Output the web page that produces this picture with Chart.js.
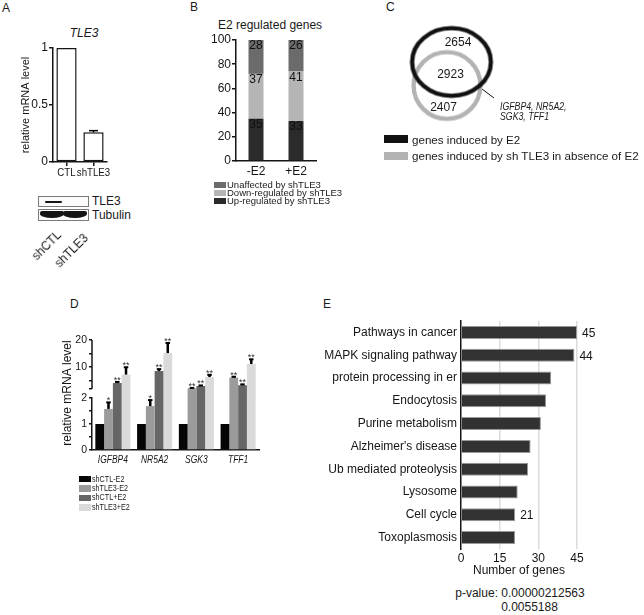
<!DOCTYPE html>
<html>
<head>
<meta charset="utf-8">
<title>TLE3 figure</title>
<script src="https://cdn.jsdelivr.net/npm/chart.js@4.4.1/dist/chart.umd.min.js"></script>
<style>
  html, body { margin: 0; padding: 0; background: #fff; }
  #fig { position: relative; width: 644px; height: 615px; overflow: hidden;
         font-family: 'Liberation Sans', Arial, sans-serif; color: #1a1a1a; }
  #fig canvas { position: absolute; }
  .txt { position: absolute; white-space: nowrap; line-height: 1; }
  .blot { position: absolute; box-sizing: border-box; border: 1px solid #7a7a7a; background: #fbfbfb; }
  .band { position: absolute; background: #141414; }
  .swatch { position: absolute; }
</style>
</head>
<body>
<div id="fig"></div>
<script>
// panel A: TLE3 knockdown
const knockdownGroups = ['CTL', 'shTLE3'];
const tle3Level = [1, 0.26];
const tle3Err = [0, 0.015];
const tle3Ticks = [0, 0.5, 1];
const blotProteins = ['TLE3', 'Tubulin'];
const blotLanes = ['shCTL', 'shTLE3'];

// panel B: E2 regulated genes (%)
const e2Conditions = ['-E2', '+E2'];
const upRegulated = [35, 33];
const downRegulated = [37, 41];
const unaffected = [28, 26];

// panel C: venn
const vennCounts = [2654, 2923, 2407];
const vennSets = ['genes induced by E2', 'genes induced by sh TLE3 in absence of E2'];
const sharedGenes = ['IGFBP4, NR5A2,', 'SGK3, TFF1'];

// panel D: qPCR
const genes = ['IGFBP4', 'NR5A2', 'SGK3', 'TFF1'];
const treatments = ['shCTL-E2', 'shTLE3-E2', 'shCTL+E2', 'shTLE3+E2'];
const shCtlMinusE2 = [1, 1, 1, 1];
const shTle3MinusE2 = [1.58, 1.69, 2.3, 6.2];
const shCtlPlusE2 = [4.2, 8.6, 3.1, 3.4];
const shTle3PlusE2 = [7.3, 15.2, 6.4, 11.2];
const shCtlMinusE2Err = [0, 0, 0, 0];
const shTle3MinusE2Err = [0.25, 0.23, 0.1, 0.3];
const shCtlPlusE2Err = [0.4, 0.7, 0.2, 0.3];
const shTle3PlusE2Err = [2.7, 3.7, 0.8, 1.7];
const shTle3MinusE2Sig = ['*', '*', '**', '**'];
const shCtlPlusE2Sig = ['**', '**', '**', '**'];
const shTle3PlusE2Sig = ['**', '**', '**', '**'];
const lowerTicks = [0, 0.5, 1, 1.5, 2];
const upperTicks = [2, 5, 10, 15, 20];
const axisBreak = 2;

// panel E: KEGG pathways
const pathways = ['Pathways in cancer', 'MAPK signaling pathway', 'protein processing in er',
  'Endocytosis', 'Purine metabolism', "Alzheimer's disease", 'Ub mediated proteolysis',
  'Lysosome', 'Cell cycle', 'Toxoplasmosis'];
const geneCounts = [45, 44, 35, 33, 31, 27, 26, 22, 21, 21];
const countLabels = ['45', '44', '', '', '', '', '', '', '21', ''];
const geneTicks = [0, 15, 30, 45];
const pValues = ['p-value: 0.00000212563', '0.0055188'];

const INK = '#151515';
const FONT = "'Liberation Sans', Arial, sans-serif";
const fig = document.getElementById('fig');

Chart.defaults.font.family = FONT;
Chart.defaults.font.size = 12;
Chart.defaults.color = INK;
Chart.defaults.animation = false;
Chart.defaults.responsive = false;
Chart.defaults.devicePixelRatio = 1;
Chart.defaults.events = [];
Chart.defaults.layout.autoPadding = false;
Chart.defaults.plugins.legend.display = false;
Chart.defaults.plugins.tooltip.enabled = false;

function canvasAt(left, top, w, h) {
  const c = document.createElement('canvas');
  c.width = w; c.height = h;
  c.style.left = left + 'px'; c.style.top = top + 'px';
  fig.appendChild(c);
  return c;
}

function text(str, x, cy, opt = {}) {
  const el = document.createElement('div');
  const size = opt.size || 12;
  el.className = 'txt';
  el.textContent = str;
  el.style.fontSize = size + 'px';
  el.style.left = x + 'px';
  el.style.top = (cy - size / 2) + 'px';
  if (opt.italic) el.style.fontStyle = 'italic';
  if (opt.align === 'center') el.style.transform = 'translateX(-50%)';
  if (opt.squeeze) {
    el.style.transformOrigin = '0 50%';
    el.style.transform = 'scaleX(' + opt.squeeze + ')';
  }
  if (opt.rotate === -45) {
    el.style.top = cy + 'px';
    el.style.transformOrigin = '0 0';
    el.style.transform = 'rotate(-45deg) translate(-100%, -50%)';
    el.style.willChange = 'transform';
  }
  fig.appendChild(el);
  return el;
}

// vertical title drawn on its own small canvas (centre at cx, cy)
function verticalText(str, cx, cy, size) {
  const c = canvasAt(cx - 10, cy - 70, 20, 140);
  const g = c.getContext('2d');
  g.translate(10, 70);
  g.rotate(-Math.PI / 2);
  g.font = size + 'px ' + FONT;
  g.fillStyle = INK;
  g.textAlign = 'center';
  g.textBaseline = 'middle';
  g.fillText(str, 0, 0);
}

function rect(cls, x, y, w, h, extra) {
  const d = document.createElement('div');
  d.className = cls;
  Object.assign(d.style, { left: x + 'px', top: y + 'px', width: w + 'px', height: h + 'px' }, extra || {});
  fig.appendChild(d);
  return d;
}

// fixed axis thickness so chart areas land where the figure has them
function fixSize(size) {
  return (scale) => {
    if (scale.isHorizontal()) scale.height = size; else scale.width = size;
    scale.paddingTop = scale.paddingBottom = scale.paddingLeft = scale.paddingRight = 0;
  };
}

function setTicks(values) {
  return (scale) => { scale.ticks = values.map(v => ({ value: v })); };
}

const errorBarPlugin = {
  id: 'errorBars',
  afterDatasetsDraw(chart, args, opts) {
    const ctx = chart.ctx, y = chart.scales.y;
    const lo = opts.from == null ? -Infinity : opts.from;
    const hi = opts.to == null ? Infinity : opts.to;
    ctx.save();
    chart.data.datasets.forEach((ds, di) => {
      chart.getDatasetMeta(di).data.forEach((bar, i) => {
        const v = ds.data[i];
        if (v == null) return;
        const err = (ds.errors || [])[i] || 0;
        const sig = (ds.sig || [])[i] || '';
        if (!err && !sig) return;
        const top = v + err;
        if (top <= lo || top > hi) return;
        const yTop = y.getPixelForValue(top);
        const yBar = y.getPixelForValue(v);
        ctx.fillStyle = '#000';
        if (err) {
          ctx.fillRect(bar.x - opts.width / 2, yTop, opts.width, yBar - yTop);
          ctx.fillRect(bar.x - opts.capWidth / 2, yTop - opts.capHeight / 2, opts.capWidth, opts.capHeight);
        }
        if (sig) {
          ctx.fillStyle = '#333';
          ctx.font = '9px ' + FONT;
          ctx.textAlign = 'center';
          ctx.textBaseline = 'alphabetic';
          ctx.fillText(sig, bar.x, yTop + 1);
        }
      });
    });
    ctx.restore();
  }
};

const segmentLabelPlugin = {
  id: 'segmentLabels',
  afterDatasetsDraw(chart) {
    const ctx = chart.ctx;
    ctx.save();
    ctx.font = '12px ' + FONT;
    ctx.fillStyle = '#111';
    ctx.textAlign = 'center';
    ctx.textBaseline = 'middle';
    chart.data.datasets.forEach((ds, di) => {
      chart.getDatasetMeta(di).data.forEach((bar, i) => ctx.fillText(ds.data[i], bar.x, bar.y + 6));
    });
    ctx.restore();
  }
};

const countLabelPlugin = {
  id: 'countLabels',
  afterDatasetsDraw(chart) {
    const ctx = chart.ctx;
    ctx.save();
    ctx.font = '12px ' + FONT;
    ctx.fillStyle = INK;
    ctx.textAlign = 'left';
    ctx.textBaseline = 'middle';
    chart.getDatasetMeta(0).data.forEach((bar, i) => {
      if (countLabels[i]) ctx.fillText(countLabels[i], bar.x + 5, bar.y + 1);
    });
    ctx.restore();
  }
};

const axisStubPlugin = {
  id: 'axisStub',
  afterDraw(chart, args, opts) {
    if (opts.from == null) return;
    const ctx = chart.ctx, y = chart.scales.y, x = chart.chartArea.left;
    ctx.save();
    ctx.strokeStyle = INK;
    ctx.lineWidth = 1.5;
    ctx.beginPath();
    ctx.moveTo(x, y.getPixelForValue(opts.to));
    ctx.lineTo(x, y.getPixelForValue(opts.from));
    ctx.stroke();
    ctx.restore();
  }
};

// condensed category labels (the figure uses a narrow face)
const narrowLabelPlugin = {
  id: 'narrowLabels',
  afterDraw(chart, args, opts) {
    const x = chart.scales.x, ctx = chart.ctx;
    ctx.save();
    ctx.font = opts.font;
    ctx.fillStyle = INK;
    ctx.textAlign = 'center';
    ctx.textBaseline = 'middle';
    chart.data.labels.forEach((lab, i) => {
      ctx.save();
      ctx.translate(x.getPixelForTick(i), x.top + opts.offset);
      ctx.scale(opts.squeeze, 1);
      ctx.fillText(lab, 0, 0);
      ctx.restore();
    });
    ctx.restore();
  }
};

const axisLine = { color: INK, width: 1.5 };
const tickOnly = (len) => ({ drawOnChartArea: false, tickLength: len, color: INK, lineWidth: 1.5 });
const noGrid = { display: false, drawTicks: false };

// panel letters
text('A', 2, 8);
text('B', 190, 7);
text('C', 386, 7);
text('D', 70, 304);
text('E', 323, 304);

// ---------- A ----------
text('TLE3', 84, 33, { italic: true, align: 'center' });
new Chart(canvasAt(0, 30, 115, 160), {
  type: 'bar',
  data: {
    labels: knockdownGroups,
    datasets: [{
      data: tle3Level, errors: tle3Err,
      backgroundColor: '#fff', borderColor: INK, borderWidth: 1.5, borderSkipped: false,
      categoryPercentage: 0.75, barPercentage: 1
    }]
  },
  options: {
    layout: { padding: { left: 19, top: 18, right: 8, bottom: 0 } },
    scales: {
      x: {
        afterFit: fixSize(28),
        grid: Object.assign(tickOnly(4), { offset: false }),
        border: axisLine,
        ticks: { display: false }
      },
      y: {
        min: 0, max: 1,
        afterFit: fixSize(34),
        afterBuildTicks: setTicks(tle3Ticks),
        grid: tickOnly(4),
        border: axisLine,
        ticks: { padding: 1, callback: v => String(v) },
        title: { display: true, text: 'relative mRNA level', font: { size: 11 }, padding: 0 }
      }
    },
    plugins: {
      errorBars: { width: 1.5, capWidth: 9, capHeight: 1.5 },
      narrowLabels: { font: '11px ' + FONT, squeeze: 0.88, offset: 11 }
    }
  },
  plugins: [errorBarPlugin, narrowLabelPlugin]
});

// western blot
rect('blot', 38, 196, 51, 11);
rect('blot', 38, 209, 51, 12);
rect('band', 45, 201, 17, 2, { borderRadius: '1px' });
rect('band', 40, 211, 24, 7, { borderRadius: '2px 2px 12px 12px / 2px 2px 4px 4px' });
rect('band', 63, 211, 24, 7, { borderRadius: '2px 2px 12px 12px / 2px 2px 4px 4px' });
text(blotProteins[0], 92, 201);
text(blotProteins[1], 92, 215);
text(blotLanes[0], 59, 233, { rotate: -45 });
text(blotLanes[1], 86, 236, { rotate: -45 });

// ---------- B ----------
text('E2 regulated genes', 218, 25);
const bSeries = [
  { label: 'Up-regulated by shTLE3', data: upRegulated, backgroundColor: '#2b2b2b' },
  { label: 'Down-regulated by shTLE3', data: downRegulated, backgroundColor: '#b5b5b5' },
  { label: 'Unaffected by shTLE3', data: unaffected, backgroundColor: '#6b6b6b' }
];
new Chart(canvasAt(190, 30, 130, 150), {
  type: 'bar',
  data: {
    labels: e2Conditions,
    datasets: bSeries.map(s => Object.assign({ categoryPercentage: 1, barPercentage: 0.375 }, s))
  },
  options: {
    layout: { padding: { left: 0, top: 10, right: 4, bottom: 0 } },
    scales: {
      x: {
        stacked: true,
        afterFit: fixSize(19),
        grid: noGrid,
        border: axisLine,
        ticks: { padding: 3, maxRotation: 0, minRotation: 0 }
      },
      y: {
        stacked: true, min: 0, max: 100,
        afterFit: fixSize(46),
        grid: tickOnly(4),
        border: axisLine,
        ticks: { stepSize: 20, padding: 1 }
      }
    }
  },
  plugins: [segmentLabelPlugin]
});
bSeries.slice().reverse().forEach((s, i) => {
  const cy = 185 + i * 8;
  rect('swatch', 214, cy - 3, 12, 6, { background: s.backgroundColor });
  text(s.label, 227, cy, { size: 9.5 });
});

// ---------- C ----------
function ring(rx, ry, color, lw) {
  const c = document.createElement('canvas');
  c.width = Math.ceil(2 * rx + lw + 2);
  c.height = Math.ceil(2 * ry + lw + 2);
  const g = c.getContext('2d');
  g.strokeStyle = color;
  g.lineWidth = lw;
  g.beginPath();
  g.ellipse(c.width / 2, c.height / 2, rx, ry, 0, 0, Math.PI * 2);
  g.stroke();
  return c;
}
new Chart(canvasAt(380, 0, 140, 150), {
  type: 'scatter',
  data: {
    datasets: [
      { data: [{ x: 71.5, y: 62 }], pointStyle: ring(39.4, 33.9, '#111', 4.3), pointRadius: 3 },
      { data: [{ x: 67, y: 85.5 }], pointStyle: ring(33.4, 33.4, '#b3b3b3', 4.3), pointRadius: 3 },
      { type: 'line', data: [{ x: 98, y: 86 }, { x: 114, y: 98 }], borderColor: '#111', borderWidth: 1, pointRadius: 0 }
    ]
  },
  options: {
    scales: {
      x: { type: 'linear', min: 0, max: 140, display: false },
      y: { type: 'linear', min: 0, max: 150, reverse: true, display: false }
    }
  }
});
text(String(vennCounts[0]), 458, 42, { align: 'center' });
text(String(vennCounts[1]), 450.5, 74, { align: 'center' });
text(String(vennCounts[2]), 443.5, 106.5, { align: 'center' });
text(sharedGenes[0], 500, 107, { italic: true, size: 11.5, squeeze: 0.76 });
text(sharedGenes[1], 500, 117, { italic: true, size: 11.5, squeeze: 0.76 });
rect('swatch', 384, 135, 24, 8, { background: '#111' });
rect('swatch', 384, 152, 24, 7.5, { background: '#b3b3b3' });
text(vennSets[0], 412, 140, { size: 11.6 });
text(vennSets[1], 412, 156, { size: 11.6 });

// ---------- D ----------
const dSeries = [
  { label: treatments[0], values: shCtlMinusE2, errors: shCtlMinusE2Err, sig: [], color: '#050505' },
  { label: treatments[1], values: shTle3MinusE2, errors: shTle3MinusE2Err, sig: shTle3MinusE2Sig, color: '#9b9b9b' },
  { label: treatments[2], values: shCtlPlusE2, errors: shCtlPlusE2Err, sig: shCtlPlusE2Sig, color: '#666666' },
  { label: treatments[3], values: shTle3PlusE2, errors: shTle3PlusE2Err, sig: shTle3PlusE2Sig, color: '#dadada' }
];
const upperMin = -1.3;

function dDatasets(upper) {
  return dSeries.map(s => ({
    label: s.label,
    data: upper ? s.values.map(v => (v > axisBreak ? v : null)) : s.values,
    errors: s.errors, sig: s.sig,
    backgroundColor: s.color,
    categoryPercentage: 0.84, barPercentage: 1,
    clip: 0,
    base: upper ? upperMin - 5 : undefined
  }));
}

// upper segment of the broken axis (2..20)
new Chart(canvasAt(40, 325, 230, 73), {
  type: 'bar',
  data: { labels: genes, datasets: dDatasets(true) },
  options: {
    layout: { padding: { left: 0, top: 15, right: 11, bottom: 0 } },
    scales: {
      x: { display: false },
      y: {
        min: upperMin, max: 20,
        afterFit: fixSize(52),
        afterBuildTicks: setTicks(upperTicks),
        grid: tickOnly(3),
        border: { display: false },
        ticks: { font: { size: 10.5 }, padding: 2, autoSkip: false, callback: v => (v % 10 === 0 ? v : '') }
      }
    },
    plugins: {
      errorBars: { from: axisBreak, width: 2.5, capWidth: 4.5, capHeight: 2 },
      axisStub: { from: axisBreak, to: 20 }
    }
  },
  plugins: [errorBarPlugin, axisStubPlugin]
});

// lower segment (0..2)
new Chart(canvasAt(40, 385, 230, 90), {
  type: 'bar',
  data: { labels: genes, datasets: dDatasets(false) },
  options: {
    layout: { padding: { left: 0, top: 13, right: 11, bottom: 0 } },
    scales: {
      x: {
        afterFit: fixSize(25),
        grid: noGrid,
        border: axisLine,
        ticks: { display: false }
      },
      y: {
        min: 0, max: axisBreak,
        afterFit: fixSize(52),
        afterBuildTicks: setTicks(lowerTicks),
        grid: tickOnly(3),
        border: axisLine,
        ticks: { font: { size: 10.5 }, padding: 2, autoSkip: false, callback: v => (Number.isInteger(v) ? v : '') }
      }
    },
    plugins: {
      errorBars: { to: axisBreak, width: 2.5, capWidth: 4.5, capHeight: 2 },
      narrowLabels: { font: 'italic 11px ' + FONT, squeeze: 0.77, offset: 9.5 }
    }
  },
  plugins: [errorBarPlugin, narrowLabelPlugin]
});
verticalText('relative mRNA level', 68, 393, 12);
dSeries.forEach((s, i) => {
  const cy = 479 + i * 9.4;
  rect('swatch', 79, cy - 3.2, 12, 6.5, { background: s.color });
  text(s.label, 92, cy, { size: 9, squeeze: 0.8 });
});

// ---------- E ----------
new Chart(canvasAt(300, 310, 344, 270), {
  type: 'bar',
  data: {
    labels: pathways,
    datasets: [{
      data: geneCounts,
      backgroundColor: '#323232', borderColor: '#9a9a9a', borderWidth: 1, borderSkipped: 'start',
      categoryPercentage: 1, barPercentage: 0.57
    }]
  },
  options: {
    indexAxis: 'y',
    layout: { padding: { left: 0, top: 11, right: 67, bottom: 0 } },
    scales: {
      y: {
        afterFit: fixSize(161),
        grid: noGrid,
        border: axisLine,
        ticks: { padding: 4, autoSkip: false }
      },
      x: {
        min: 0, max: 45,
        afterFit: fixSize(31),
        afterBuildTicks: setTicks(geneTicks),
        grid: {
          drawTicks: false, lineWidth: 1.5,
          color: (c) => (c.tick && c.tick.value === 0 ? 'rgba(0,0,0,0)' : '#dcdcdc')
        },
        border: { display: false },
        ticks: { padding: 2, maxRotation: 0 },
        title: { display: true, text: 'Number of genes', padding: { top: 0, bottom: 2 } }
      }
    }
  },
  plugins: [countLabelPlugin]
});
text(pValues[0], 520, 593, { align: 'center' });
text(pValues[1], 529.5, 607, { align: 'center' });
</script>
</body>
</html>
